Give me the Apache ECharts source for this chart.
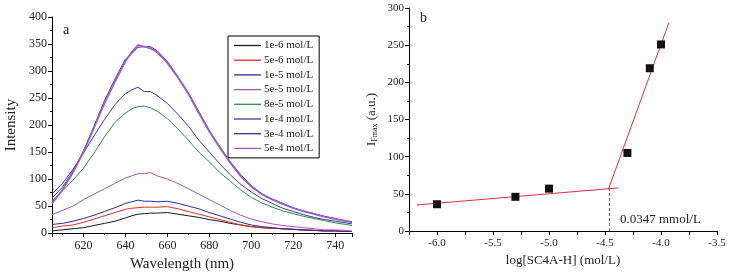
<!DOCTYPE html>
<html>
<head>
<meta charset="utf-8">
<script src="https://cdn.jsdelivr.net/npm/echarts@6/dist/echarts.min.js"></script>
<style>
  html, body { margin: 0; padding: 0; background: #fff; }
  #chart { width: 730px; height: 277px; }
</style>
</head>
<body>
<div id="chart"></div>
<script>
// panel a: emission spectra
const wavelengths = [605, 610, 615, 620, 625, 630, 635, 640, 643, 646, 649, 652, 655, 660, 665, 670,
  675, 680, 685, 690, 695, 700, 705, 710, 715, 720, 725, 730, 735, 740, 745, 748];

const seriesNames = ["1e-6 mol/L", "5e-6 mol/L", "1e-5 mol/L", "5e-5 mol/L",
  "8e-5 mol/L", "1e-4 mol/L", "3e-4 mol/L", "5e-4 mol/L"];
const seriesColors = ["#1a1a1a", "#e0302a", "#2c2c9a", "#a555b5",
  "#2e8b45", "#3b3b9e", "#4b2c8c", "#9a62c0"];

const c1e6 = [4, 6, 8, 10, 14, 18, 22, 28, 32, 35, 36, 37, 37, 38, 35, 32, 29, 25, 22, 18, 15, 12, 10, 9, 8, 7, 6, 5, 4, 4, 3, 3];
const c5e6 = [10, 13, 15, 20, 26, 32, 38, 44, 46, 47, 48, 48, 48, 49, 45, 40, 35, 30, 25, 20, 15, 12, 10, 9, 8, 7, 5, 5, 4, 4, 3, 3];
const c1e5 = [16, 18, 22, 27, 33, 40, 47, 55, 58, 61, 59, 59, 58, 59, 55, 50, 45, 38, 32, 26, 20, 15, 12, 10, 8, 7, 6, 5, 4, 4, 3, 3];
const c5e5 = [34, 42, 50, 62, 72, 82, 92, 102, 106, 110, 110, 112, 106, 100, 92, 82, 72, 62, 52, 42, 33, 26, 21, 17, 14, 12, 10, 8, 6, 6, 5, 4];
const c8e5 = [60, 78, 98, 120, 148, 178, 205, 222, 230, 234, 235, 232, 226, 212, 193, 172, 150, 132, 112, 96, 80, 66, 56, 48, 41, 36, 31, 27, 23, 19, 16, 14];
const c1e4 = [72, 92, 118, 148, 180, 210, 238, 258, 265, 270, 262, 262, 255, 240, 220, 198, 172, 150, 128, 108, 90, 76, 64, 55, 46, 40, 34, 29, 25, 22, 19, 17];
const c3e4 = [65, 85, 115, 152, 198, 245, 285, 322, 332, 344, 345, 345, 338, 318, 290, 260, 225, 190, 160, 132, 108, 88, 73, 63, 55, 47, 41, 36, 31, 27, 23, 21];
const c5e4 = [55, 80, 112, 150, 195, 240, 280, 318, 335, 348, 345, 342, 335, 315, 288, 258, 222, 188, 158, 130, 105, 86, 72, 62, 54, 46, 40, 35, 30, 26, 22, 20];
const spectra = [c1e6, c5e6, c1e5, c5e5, c8e5, c1e4, c3e4, c5e4];

// panel b: Imax vs log concentration
const logConc = [-6.0, -5.3, -5.0, -4.3, -4.1, -4.0];
const imax = [36, 46, 57, 105, 219, 251];
const lowFitX = [-6.18, -4.38];
const lowFitY = [35, 58];
const highFitX = [-4.47, -3.93];
const highFitY = [56, 280];
const breakX = -4.46;
const breakY = 56;

const serif = "Liberation Serif";
const chart = echarts.init(document.getElementById("chart"));

const lineSeries = spectra.map((vals, i) => ({
  name: seriesNames[i],
  type: "line",
  xAxisIndex: 0,
  yAxisIndex: 0,
  symbol: "none",
  data: vals.map((v, j) => [wavelengths[j], v]),
  lineStyle: { color: seriesColors[i], width: i === 7 ? 1.8 : 1 },
  itemStyle: { color: seriesColors[i] },
  z: 2 + i,
}));

const axisCommon = {
  axisLine: { show: true, lineStyle: { color: "#000", width: 1 } },
  axisTick: { show: true, length: 4, lineStyle: { color: "#000" } },
  minorTick: { show: true, splitNumber: 2, length: 2, lineStyle: { color: "#000" } },
  splitLine: { show: false },
  axisLabel: { color: "#222", fontFamily: serif, fontSize: 12 },
  nameTextStyle: { color: "#222", fontFamily: serif },
};

const option = {
  animation: false,
  backgroundColor: "#fff",
  grid: [
    { left: 52, right: 378, top: 17, bottom: 43 },
    { left: 409, right: 13, top: 8, bottom: 46 },
  ],
  legend: {
    data: seriesNames,
    orient: "vertical",
    left: 228,
    top: 36,
    width: 91,
    icon: "rect",
    itemWidth: 27,
    itemHeight: 1.3,
    itemGap: 3.7,
    padding: [4, 6, 4, 6],
    borderColor: "#000",
    borderWidth: 1,
    textStyle: { fontFamily: serif, fontSize: 11, color: "#222", padding: [0, 0, 0, -2] },
  },
  xAxis: [
    Object.assign({}, axisCommon, {
      gridIndex: 0,
      type: "value",
      min: 605,
      max: 748,
      splitNumber: 7,
      name: "Wavelength (nm)",
      nameLocation: "middle",
      nameGap: 22,
      nameTextStyle: { color: "#222", fontFamily: serif, fontSize: 15, padding: [0, 40, 0, 0] },
      axisLabel: { color: "#222", fontFamily: serif, fontSize: 12, margin: 7, showMinLabel: false, showMaxLabel: false },
    }),
    Object.assign({}, axisCommon, {
      gridIndex: 1,
      type: "value",
      min: -6.25,
      max: -3.5,
      interval: 0.25,
      minorTick: { show: false },
      name: "log[SC4A-H] (mol/L)",
      nameLocation: "middle",
      nameGap: 20,
      nameTextStyle: { color: "#222", fontFamily: serif, fontSize: 13 },
      axisLabel: {
        color: "#222", fontFamily: serif, fontSize: 11, margin: 7,
        formatter: v => (Math.abs(v * 2 - Math.round(v * 2)) < 1e-6 ? v.toFixed(1) : ""),
      },
    }),
  ],
  yAxis: [
    Object.assign({}, axisCommon, {
      gridIndex: 0,
      type: "value",
      min: 0,
      max: 400,
      interval: 50,
      name: "Intensity",
      nameLocation: "middle",
      nameGap: 33,
      nameTextStyle: { color: "#222", fontFamily: serif, fontSize: 15 },
      axisLabel: { color: "#222", fontFamily: serif, fontSize: 12, margin: 5 },
    }),
    Object.assign({}, axisCommon, {
      gridIndex: 1,
      type: "value",
      min: 0,
      max: 300,
      interval: 50,
      name: "{i|I}{s|Fmax}{i| (a.u.)}",
      nameLocation: "middle",
      nameGap: 30,
      nameTextStyle: {
        color: "#222", fontFamily: serif,
        rich: {
          i: { fontFamily: serif, fontSize: 13, color: "#222" },
          s: { fontFamily: serif, fontSize: 8, color: "#222", verticalAlign: "bottom", padding: [6, 0, 0, 0] },
        },
      },
      axisLabel: { color: "#222", fontFamily: serif, fontSize: 11, margin: 5 },
    }),
  ],
  graphic: [
    { type: "text", left: 63, top: 23, style: { text: "a", font: "14px " + serif, fill: "#222" } },
    { type: "text", left: 420, top: 11, style: { text: "b", font: "14px " + serif, fill: "#222" } },
    { type: "text", left: 620, top: 213, style: { text: "0.0347 mmol/L", font: "13px " + serif, fill: "#222" } },
  ],
  series: lineSeries.concat([
    {
      type: "line",
      xAxisIndex: 1,
      yAxisIndex: 1,
      symbol: "none",
      data: lowFitX.map((x, i) => [x, lowFitY[i]]),
      lineStyle: { color: "#e0303a", width: 1 },
      z: 3,
    },
    {
      type: "line",
      xAxisIndex: 1,
      yAxisIndex: 1,
      symbol: "none",
      data: highFitX.map((x, i) => [x, highFitY[i]]),
      lineStyle: { color: "#e0303a", width: 1 },
      z: 3,
    },
    {
      type: "line",
      xAxisIndex: 1,
      yAxisIndex: 1,
      symbol: "none",
      data: [[breakX, 0], [breakX, breakY]],
      lineStyle: { color: "#5858c0", width: 1, type: [3, 2] },
      z: 3,
    },
    {
      type: "scatter",
      xAxisIndex: 1,
      yAxisIndex: 1,
      symbol: "rect",
      symbolSize: 8,
      data: logConc.map((x, i) => [x, imax[i]]),
      itemStyle: { color: "#111", opacity: 1 },
      z: 5,
    },
  ]),
};

chart.setOption(option);
</script>
</body>
</html>
